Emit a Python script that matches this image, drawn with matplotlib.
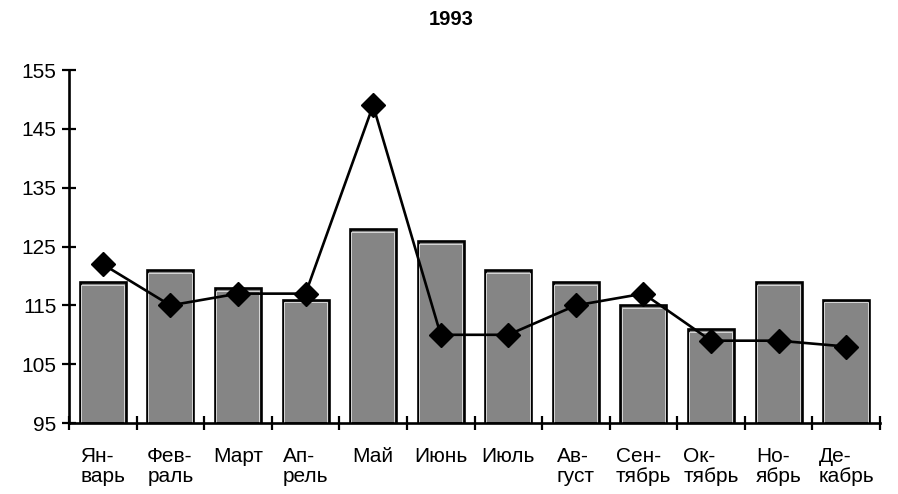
import numpy as np
import matplotlib
matplotlib.use("Agg")
import matplotlib.pyplot as plt
from matplotlib.ticker import FixedLocator

months = ["Ян-\nварь", "Фев-\nраль", "Март", "Ап-\nрель", "Май", "Июнь",
          "Июль", "Ав-\nгуст", "Сен-\nтябрь", "Ок-\nтябрь", "Но-\nябрь", "Де-\nкабрь"]
bar_values = [119, 121, 118, 116, 128, 126, 121, 119, 115, 111, 119, 116]
line_values = [122, 115, 117, 117, 149, 110, 110, 115, 117, 109, 109, 108]
yticks = [95, 105, 115, 125, 135, 145, 155]

plt.rcParams['font.family'] = ['Liberation Sans', 'DejaVu Sans']

fig = plt.figure(figsize=(8.98, 4.94), dpi=100)
ax = fig.add_axes([0.0768, 0.1437, 0.9032, 0.7143])

x = np.arange(len(months))
base = yticks[0]
heights = np.array(bar_values) - base

# grey bars with black outline
ax.bar(x, heights, bottom=base, width=0.68, color="#858585",
       edgecolor="black", linewidth=1.9, zorder=2)
# faint light inner edge, like on the print
ax.bar(x - 0.005, heights - 0.5, bottom=base, width=0.64, color="none",
       edgecolor="#d8d8d8", linewidth=0.7, zorder=2.5)

ax.plot(x, line_values, color="black", linewidth=1.9, marker="D",
        markersize=12, markerfacecolor="black", zorder=3, clip_on=False)

ax.set_xlim(-0.5, len(months) - 0.5)
ax.set_ylim(95, 155)
ax.set_yticks(yticks)
ax.tick_params(axis="y", direction="inout", length=10, width=1.6,
               labelsize=15, pad=4)

ax.set_xticks(x)
ax.set_xticklabels(months, fontsize=15, va="top", linespacing=1.12)
for lbl in ax.get_xticklabels():
    lbl.set_multialignment("left")
ax.tick_params(axis="x", which="major", length=0, pad=17)
ax.xaxis.set_minor_locator(FixedLocator(np.arange(-0.5, len(months), 1.0)))
ax.tick_params(axis="x", which="minor", direction="inout", length=10, width=1.6)

for side in ("top", "right"):
    ax.spines[side].set_visible(False)
for side in ("left", "bottom"):
    ax.spines[side].set_linewidth(1.9)

fig.text(0.502, 0.961, "1993", ha="center", va="center", fontsize=14.5,
         fontweight="bold")

fig.savefig("out.png", dpi=100)
